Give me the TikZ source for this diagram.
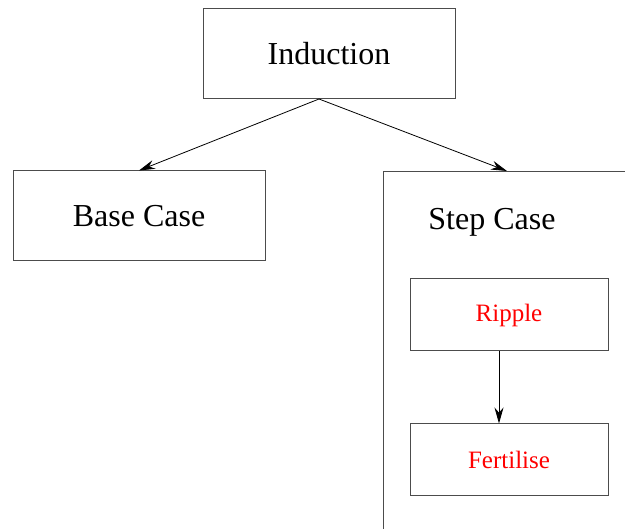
\documentclass[tikz,border=0pt]{standalone}
\usepackage{fontspec}
\setmainfont{Liberation Serif}
\usetikzlibrary{arrows.meta, calc}
\tikzstyle{box} = [rectangle, draw=black!70, line width=1pt, minimum width=252pt, minimum height=90pt, text centered, font=\fontsize{32}{36}\selectfont]
\tikzstyle{inner} = [rectangle, draw=black!70, line width=1pt, minimum width=198pt, minimum height=72pt, text centered, text=red, font=\fontsize{25}{30}\selectfont]
\tikzstyle{arrow} = [line width=0.8pt,-{Stealth[length=16pt,width=9pt]}]

\begin{document}
\begin{tikzpicture}[x=1pt,y=-1pt]
            \useasboundingbox (0,0) rectangle (625,529);
            \clip (0,0) rectangle (625,529);
            \node (ind)  [box] at (329,54)  {Induction};
            \node (base) [box] at (139,216) {Base Case};
            \node (step) [box, minimum width=330pt, minimum height=420pt, anchor=north west] at (383,171) {};
            \node (steptxt) [font=\fontsize{32}{36}\selectfont] at (492,222) {Step Case};
            \node (ripple) [inner] at (509,315) {Ripple};
            \node (fert)   [inner] at (509,460) {Fertilise};

            \coordinate (split) at (319,99);
            \coordinate (stepin) at (507,171);

            \draw [arrow] (split) -- (base.north);
            \draw [arrow] (split) -- (stepin);
            \draw [arrow] ($(ripple.south)+(-10,0)$) -- ($(fert.north)+(-10,0)$);
        \end{tikzpicture}
\end{document}
